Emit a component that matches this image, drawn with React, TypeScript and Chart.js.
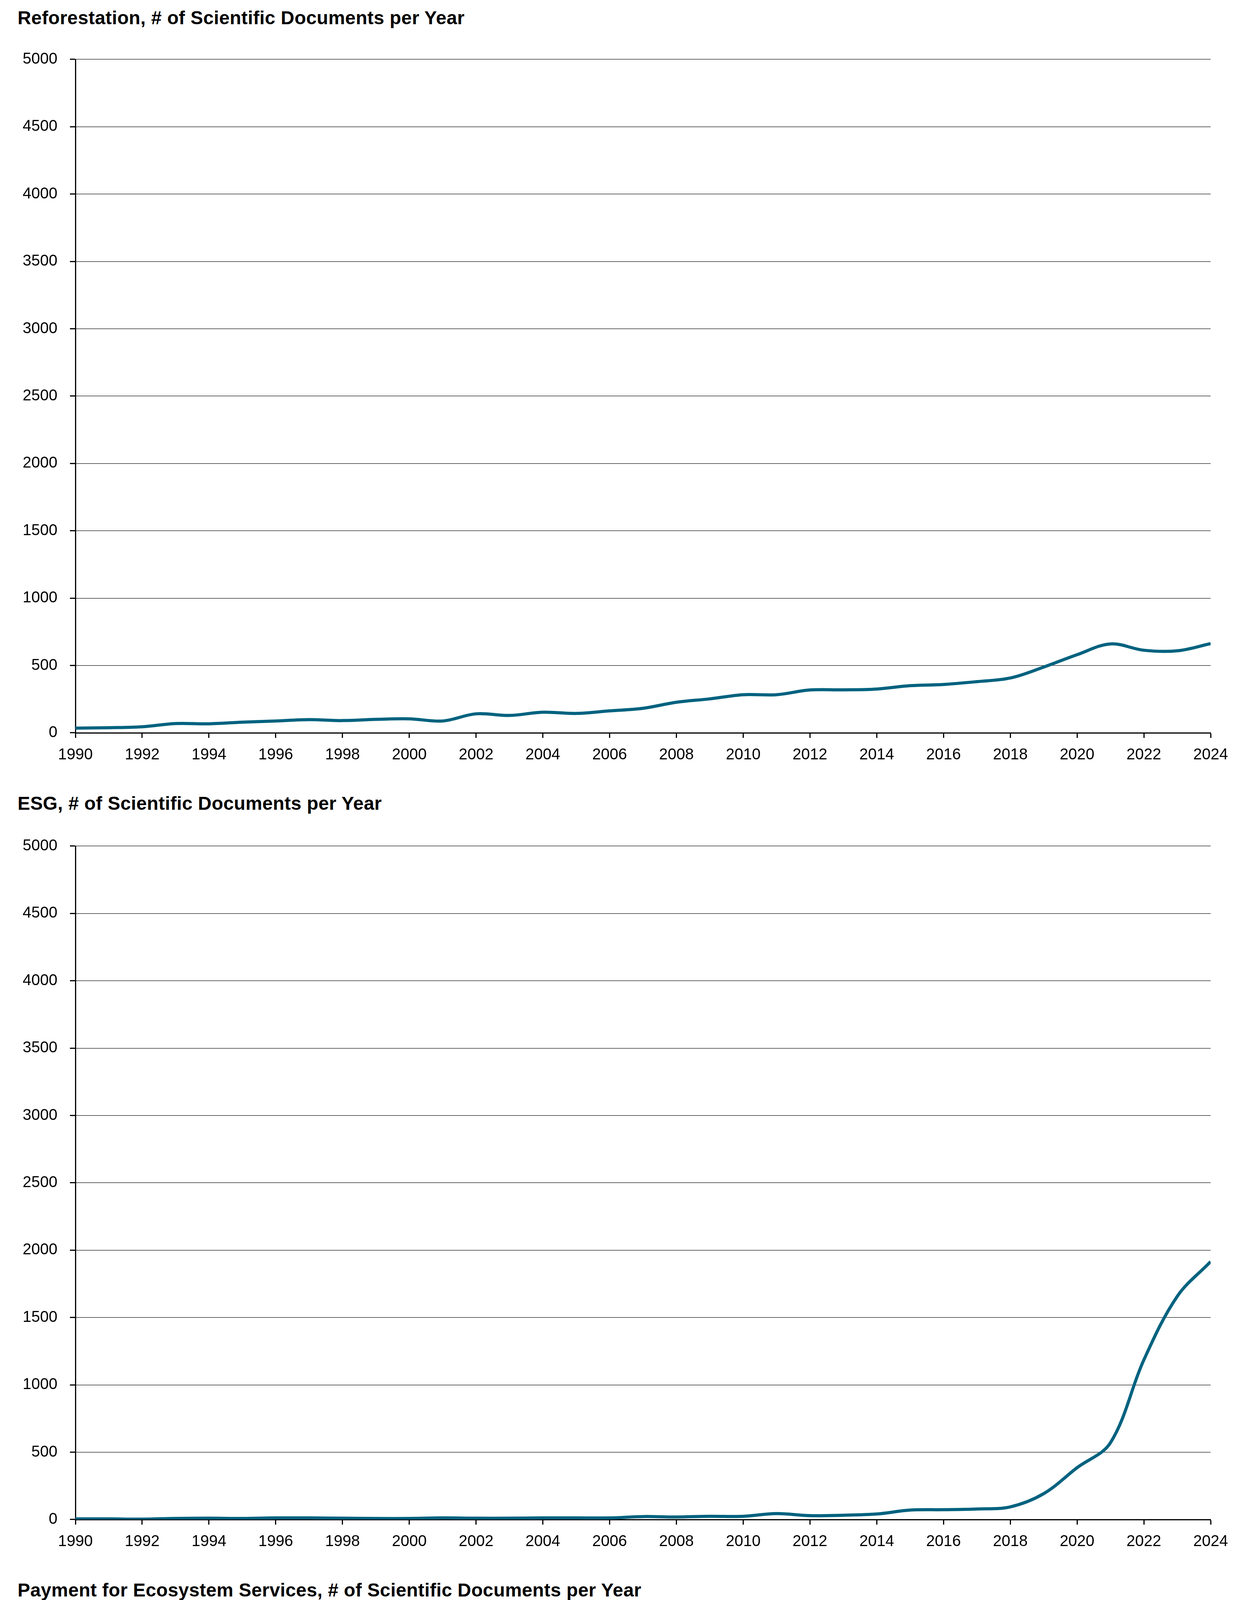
import { useEffect, useRef } from "react";
import { Chart, LineController, LineElement, PointElement, LinearScale } from "chart.js";

Chart.register(LineController, LineElement, PointElement, LinearScale);

// years on the x axis
const years = [
  1990, 1991, 1992, 1993, 1994, 1995, 1996, 1997, 1998, 1999,
  2000, 2001, 2002, 2003, 2004, 2005, 2006, 2007, 2008, 2009,
  2010, 2011, 2012, 2013, 2014, 2015, 2016, 2017, 2018, 2019,
  2020, 2021, 2022, 2023, 2024,
];
const yearTicks = [
  1990, 1992, 1994, 1996, 1998, 2000, 2002, 2004, 2006,
  2008, 2010, 2012, 2014, 2016, 2018, 2020, 2022, 2024,
];

// documents per year
const reforestation = [
  35, 38, 45, 69, 67, 79, 88, 98, 91, 100,
  104, 88, 141, 129, 153, 144, 163, 182, 227, 252,
  283, 283, 318, 319, 325, 350, 359, 380, 407, 488,
  580, 660, 613, 609, 662,
];
const esg = [
  5, 5, 3, 8, 10, 8, 12, 12, 10, 8,
  8, 12, 10, 10, 12, 12, 12, 22, 19, 24,
  24, 44, 29, 32, 41, 70, 73, 78, 94, 192,
  385, 570, 1185, 1657, 1915,
];
const pes = [
  null, null, null, null, null, null, null, null, null, 1,
  1, 1, 0, 1, 3, 3, 6, 13, 20, 54,
  72, 88, 123, 172, 179, 199, 193, 251, 300, 316,
  315, 402, 361, 333, 289,
];

const bigTicks = [0, 500, 1000, 1500, 2000, 2500, 3000, 3500, 4000, 4500, 5000];
const smallTicks = [0, 100, 200, 300, 400, 500, 600, 700, 800, 900, 1000];

const LINE = "#00627f";
const FONT = "'Liberation Sans', Arial, Helvetica, sans-serif";
const PAD_TOP = 40;
const AXIS_H = 110;
const AXIS_W = 193;

interface PanelProps {
  title: string;
  values: (number | null)[];
  yTicks: number[];
  titleTop: number;
  plotTop: number;
  plotHeight: number;
}

function Panel({ title, values, yTicks, titleTop, plotTop, plotHeight }: PanelProps) {
  const ref = useRef<HTMLCanvasElement>(null);

  useEffect(() => {
    if (!ref.current) return;
    const chart = new Chart(ref.current, {
      type: "line",
      data: {
        datasets: [
          {
            data: years.map((y, i) => ({ x: y, y: values[i] })) as any,
            borderColor: LINE,
            borderWidth: 8,
            tension: 0.35,
            pointRadius: 0,
            fill: false,
            spanGaps: false,
          },
        ],
      },
      options: {
        animation: false,
        responsive: true,
        maintainAspectRatio: false,
        events: [],
        layout: { padding: { top: PAD_TOP, right: 88, bottom: 0, left: 0 } },
        plugins: { legend: { display: false }, tooltip: { enabled: false } },
        scales: {
          x: {
            type: "linear",
            min: years[0],
            max: years[years.length - 1],
            afterBuildTicks: (s) => { s.ticks = yearTicks.map((v) => ({ value: v })); },
            afterFit: (s) => { s.height = AXIS_H; },
            grid: { drawOnChartArea: false, drawTicks: true, tickLength: 13, tickWidth: 3, tickColor: "#000" },
            border: { color: "#000", width: 3 },
            ticks: {
              autoSkip: false, maxRotation: 0, padding: 20, color: "#000",
              font: { family: FONT, size: 40 },
              callback: (v) => String(v),
            },
          },
          y: {
            type: "linear",
            min: 0,
            max: yTicks[yTicks.length - 1],
            afterBuildTicks: (s) => { s.ticks = yTicks.map((v) => ({ value: v })); },
            afterFit: (s) => { s.width = AXIS_W; },
            grid: { color: "#111", lineWidth: 1.2, tickLength: 14, tickWidth: 3, tickColor: "#000" },
            border: { color: "#000", width: 3 },
            ticks: {
              padding: 32, color: "#000",
              font: { family: FONT, size: 40 },
              callback: (v) => String(v),
            },
          },
        },
      },
    });
    return () => chart.destroy();
  }, [values, yTicks]);

  return (
    <>
      <div
        style={{
          position: "absolute", left: 45, top: titleTop - 6,
          fontFamily: FONT, fontWeight: 700, fontSize: 48, lineHeight: "48px",
          letterSpacing: "0.4px", color: "#000", whiteSpace: "nowrap",
        }}
      >
        {title}
      </div>
      <div
        style={{
          position: "absolute", left: 0, top: plotTop - PAD_TOP,
          width: 3187, height: PAD_TOP + plotHeight + AXIS_H,
        }}
      >
        <canvas ref={ref} role="img" aria-label={title} />
      </div>
    </>
  );
}

export default function App() {
  useEffect(() => {
    document.body.style.margin = "0";
    document.body.style.background = "#fff";
  }, []);

  return (
    <div style={{ position: "relative", width: 3187, height: 6009, background: "#fff", overflow: "hidden" }}>
      <Panel title="Reforestation, # of Scientific Documents per Year" values={reforestation} yTicks={bigTicks}
        titleTop={28} plotTop={136} plotHeight={1740} />
      <Panel title="ESG, # of Scientific Documents per Year" values={esg} yTicks={bigTicks}
        titleTop={2039} plotTop={2150} plotHeight={1740} />
      <Panel title="Payment for Ecosystem Services, # of Scientific Documents per Year" values={pes} yTicks={smallTicks}
        titleTop={4053} plotTop={4163} plotHeight={1733} />
    </div>
  );
}
